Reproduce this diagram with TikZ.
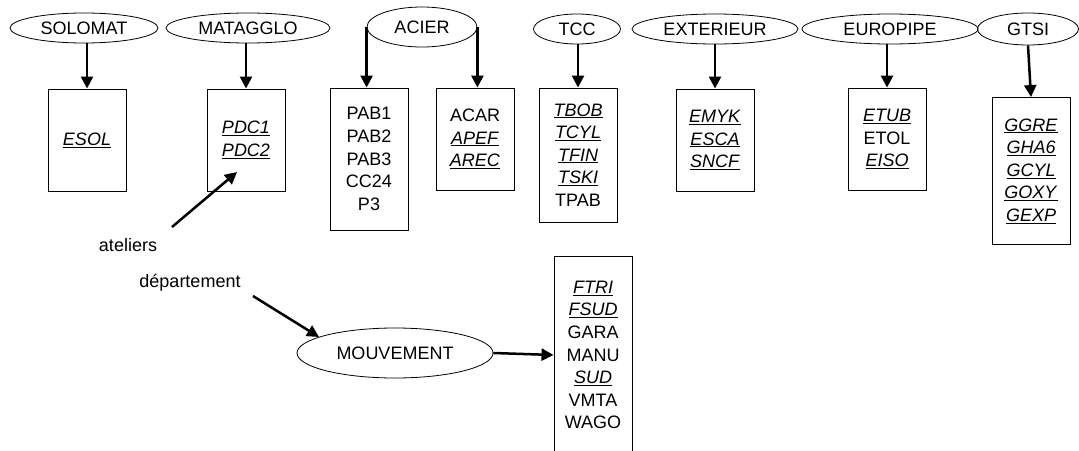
\documentclass[tikz,border=0pt]{standalone}
\usepackage{fontspec}
\setmainfont{Liberation Sans}
\usetikzlibrary{shapes.geometric,arrows.meta}
\newcommand{\ui}[1]{\underline{\textit{#1}}}
\begin{document}
\begin{tikzpicture}[x=1pt,y=-1pt,
  txt/.style={font=\fontsize{18}{22.6}\selectfont},
  ell/.style={txt,draw,ellipse,line width=0.8pt,inner sep=0pt},
  box/.style={txt,draw,rectangle,line width=0.9pt,minimum width=78pt,inner sep=0pt,align=center},
  arr/.style={line width=2.5pt,-{Triangle[length=12pt,width=12pt]}},
  lbl/.style={txt,inner sep=0pt}]
\useasboundingbox (0,0) rectangle (1079,450);
\clip (0,0) rectangle (1079,450);

% ellipses
\node[ell,minimum width=148pt,minimum height=30pt] (solomat) at (84,28) {SOLOMAT};
\node[ell,minimum width=164pt,minimum height=30pt] (matagglo) at (248,28) {MATAGGLO};
\node[ell,minimum width=110pt,minimum height=40pt] (acier) at (422,27) {ACIER};
\node[ell,minimum width=87pt,minimum height=30pt] (tcc) at (577,29) {TCC};
\node[ell,minimum width=166pt,minimum height=30pt] (ext) at (715,29) {EXTERIEUR};
\node[ell,minimum width=176pt,minimum height=30pt] (euro) at (890,29) {EUROPIPE};
\node[ell,minimum width=101pt,minimum height=32pt] (gtsi) at (1028,29) {GTSI};
\node[ell,minimum width=196pt,minimum height=50pt] (mouv) at (395,353) {MOUVEMENT};

% boxes
\node[box,minimum height=102pt] (esol) at (87,140) {\ui{ESOL}};
\node[box,minimum height=102pt] (pdc) at (246,140) {\ui{PDC1}\\\ui{PDC2}};
\node[box,minimum height=142pt] (pab) at (369,159) {PAB1\\PAB2\\PAB3\\CC24\\P3};
\node[box,minimum height=102pt] (acar) at (475,139) {ACAR\\\ui{APEF}\\\ui{AREC}};
\node[box,minimum height=134pt] (tbob) at (578,155) {\ui{TBOB}\\\ui{TCYL}\\\ui{TFIN}\\\ui{TSKI}\\TPAB};
\node[box,minimum height=102pt] (emyk) at (715,140) {\ui{EMYK}\\\ui{ESCA}\\\ui{SNCF}};
\node[box,minimum height=102pt] (etub) at (887,139) {\ui{ETUB}\\ETOL\\\ui{EISO}};
\node[box,minimum height=147pt] (ggre) at (1031,171) {\ui{GGRE}\\\ui{GHA6}\\\ui{GCYL}\\\ui{GOXY}\\\ui{GEXP}};
\node[box,minimum height=198pt] (ftri) at (593,355) {\ui{FTRI}\\\ui{FSUD}\\GARA\\MANU\\\ui{SUD}\\VMTA\\WAGO};

% labels
\node[lbl] (ateliers) at (128,245) {ateliers};
\node[lbl] (dept) at (190,283) {département};
\coordinate (a1) at (172,227);
\coordinate (a2) at (237,172);
\coordinate (d1) at (253,296);
\coordinate (d2) at (319,337);

% connectors
\draw[arr] (solomat.south -| esol.north) -- (esol.north);
\draw[arr] (matagglo.south -| pdc.north) -- (pdc.north);
\draw[arr] (acier.west) -- (acier.west |- pab.north);
\draw[arr] (acier.east) -- (acier.east |- acar.north);
\draw[arr] (tcc.south -| tbob.north) -- (tbob.north);
\draw[arr] (ext.south -| emyk.north) -- (emyk.north);
\draw[arr] (euro.south -| etub.north) -- (etub.north);
\draw[arr] (gtsi.south) -- (ggre.north);
\draw[arr] (a1) -- (a2);
\draw[arr] (d1) -- (d2);
\draw[arr] (mouv.east) -- (ftri.west);
\end{tikzpicture}
\end{document}
